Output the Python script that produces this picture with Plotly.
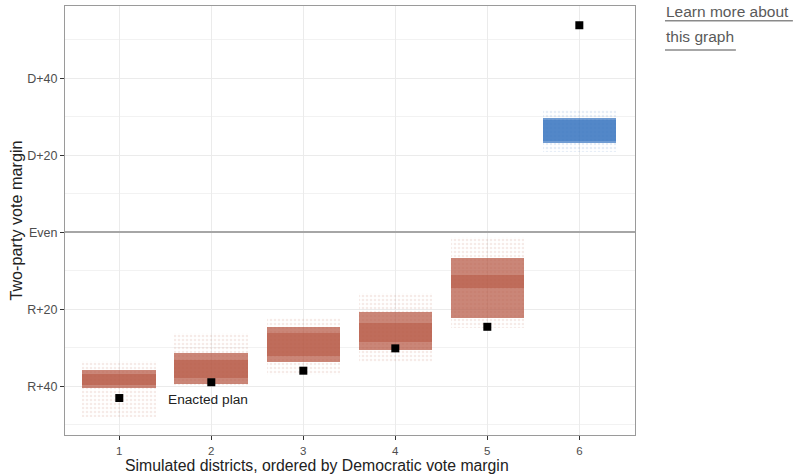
import plotly.graph_objects as go

# ---- data ----
districts = [1, 2, 3, 4, 5, 6]
enacted = [-43.0, -38.9, -35.9, -30.1, -24.5, 53.8]

# simulated distribution summaries per district (vote margin, D positive)
sparse_lo = [-47.9, -40.2, -37.0, -33.6, -24.8, 21.0]
sparse_hi = [-33.3, -26.0, -22.2, -15.7, -1.1, 31.8]
dense_lo = [-40.5, -39.3, -33.6, -30.5, -22.2, 23.2]
dense_hi = [-35.8, -31.3, -24.5, -20.6, -6.6, 29.7]
core_lo = [-39.5, -37.8, -32.0, -28.4, -14.4, 23.8]
core_hi = [-36.8, -33.0, -26.0, -23.5, -11.0, 29.2]
tail_lo = [None, None, None, None, 0.3, 2.5]
tail_hi = [None, None, None, None, 2.8, 21.0]
party = ["R", "R", "R", "R", "R", "D"]

ytick_vals = [-40, -20, 0, 20, 40]
ytick_text = ["R+40", "R+20", "Even", "D+20", "D+40"]

RED = (182, 88, 68)
BLUE = (58, 118, 192)


def rgba(c, a):
    return f"rgba({c[0]},{c[1]},{c[2]},{a})"


def col(p, a):
    return rgba(RED if p == "R" else BLUE, a)


fig = go.Figure()


def band(lo, hi, bg_a, fg_a=None, size=4, solidity=0.3, colors=None):
    xs, bases, heights, bgs, fgs = [], [], [], [], []
    for i, (l, h) in enumerate(zip(lo, hi)):
        if l is None:
            continue
        p = colors[i] if colors else party[i]
        xs.append(districts[i])
        bases.append(l)
        heights.append(h - l)
        bgs.append(col(p, bg_a))
        fgs.append(col(p, fg_a if fg_a is not None else bg_a))
    marker = dict(color=bgs, line=dict(width=0))
    if fg_a is not None:
        marker["pattern"] = dict(shape=".", size=size, solidity=solidity,
                                 fgcolor=fgs, bgcolor=bgs, fillmode="replace")
    fig.add_trace(go.Bar(
        x=xs, y=heights, base=bases, width=0.8, marker=marker,
        hoverinfo="skip", showlegend=False,
    ))


band(tail_lo, tail_hi, 0.0, fg_a=0.85, size=9, solidity=0.2, colors=["D"] * 6)
band(sparse_lo, sparse_hi, 0.12, fg_a=0.8, size=4, solidity=0.35)
band(dense_lo, dense_hi, 0.72)
band(core_lo, core_hi, 0.55)

fig.add_trace(go.Scatter(
    x=districts, y=enacted, mode="markers",
    marker=dict(symbol="square", size=8, color="black"),
    showlegend=False, hoverinfo="skip",
))

fig.add_annotation(x=1.96, y=-43.4, text="Enacted plan", showarrow=False,
                   xanchor="center", yanchor="middle",
                   font=dict(size=13.7, color="#222222"))

# x axis title (placed left of centre as in the reference)
fig.add_annotation(xref="paper", yref="paper", x=0.442, y=-0.0932,
                   xanchor="center", yanchor="bottom", showarrow=False,
                   borderpad=0,
                   text="Simulated districts, ordered by Democratic vote margin",
                   font=dict(size=15.8, color="#222222"))

# "Learn more" link text
fig.add_annotation(xref="paper", yref="paper", x=1.05, y=0.988, yanchor="middle",
                   xanchor="left", text="Learn more about", showarrow=False,
                   font=dict(size=15.5, color="#5a5a5a"))
fig.add_annotation(xref="paper", yref="paper", x=1.05, y=0.93, yanchor="middle",
                   xanchor="left", text="this graph", showarrow=False,
                   font=dict(size=15.5, color="#5a5a5a"))
fig.add_shape(type="line", xref="paper", yref="paper", x0=1.0526, x1=1.277,
              y0=0.9657, y1=0.9657, line=dict(color="#8a8a8a", width=1.5))
fig.add_shape(type="line", xref="paper", yref="paper", x0=1.0526, x1=1.177,
              y0=0.8974, y1=0.8974, line=dict(color="#8a8a8a", width=1.5))

fig.update_layout(
    width=796, height=475,
    margin=dict(l=65, r=161, t=6, b=40),
    paper_bgcolor="white", plot_bgcolor="white",
    barmode="overlay", bargap=0,
    font=dict(family="Liberation Sans, Arial, sans-serif", color="#4d4d4d"),
)
fig.update_xaxes(
    range=[0.41, 6.605], tickvals=districts, ticktext=[str(d) for d in districts],
    showgrid=True, gridcolor="#ebebeb", gridwidth=1, zeroline=False,
    ticks="outside", ticklen=4, tickcolor="#333333", tickfont=dict(size=11.5),
    ticklabelstandoff=1,
    showline=True, mirror=True, linecolor="#9a9a9a", linewidth=1,
    automargin=False,
)
fig.update_yaxes(
    range=[-52.6, 58.8], tickvals=ytick_vals, ticktext=ytick_text,
    showgrid=True, gridcolor="#ebebeb", gridwidth=1,
    minor=dict(dtick=10, tick0=0, showgrid=True, gridcolor="#f2f2f2", ticks=""),
    zeroline=True, zerolinecolor="#a6a6a6", zerolinewidth=1.5,
    ticks="outside", ticklen=4, tickcolor="#333333", tickfont=dict(size=12.5),
    showline=True, mirror=True, linecolor="#9a9a9a", linewidth=1,
    title=dict(text="Two-party vote margin", font=dict(size=16.2, color="#222222"),
               standoff=0),
    automargin=False,
)

fig.write_html("out.html", config={"displayModeBar": False},
               post_script="document.body.style.margin='0px';")
